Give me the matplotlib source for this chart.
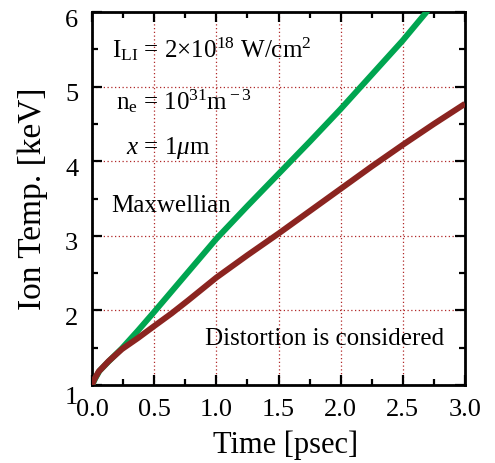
import numpy as np
import matplotlib as mpl
import matplotlib.pyplot as plt
from matplotlib.ticker import MultipleLocator
import matplotlib.transforms as mtransforms

# Ion temperature vs time (psec), keV
t_maxw = [0.0, 0.03, 0.06, 0.13, 0.24, 0.37, 0.5, 0.75, 1.0, 1.25, 1.5,
          1.75, 2.0, 2.25, 2.5, 2.7]
T_maxw = [1.0, 1.10, 1.19, 1.31, 1.49, 1.73, 1.98, 2.47, 2.96, 3.40, 3.83,
          4.26, 4.70, 5.16, 5.62, 6.02]

t_dist = [0.0, 0.02, 0.054, 0.134, 0.24, 0.37, 0.5, 0.64, 0.77, 1.0, 1.25, 1.5,
          1.75, 2.0, 2.25, 2.5, 2.75, 3.0]
T_dist = [1.0, 1.08, 1.18, 1.32, 1.48, 1.63, 1.79, 1.96, 2.13, 2.44, 2.74, 3.03,
          3.33, 3.63, 3.93, 4.22, 4.50, 4.77]

mpl.rcParams.update({'font.family': 'Liberation Serif',
                     'mathtext.fontset': 'custom',
                     'mathtext.rm': 'Liberation Serif',
                     'mathtext.it': 'Liberation Serif:italic',
                     'font.size': 18})

fig = plt.figure(figsize=(4.95, 4.63), dpi=100)
ax = fig.add_axes([0.1859, 0.1685, 0.7535, 0.8055])

ax.plot(t_maxw, T_maxw, color='#00a550', linewidth=4.3, solid_capstyle='butt',
        solid_joinstyle='round', zorder=4)
ax.plot(t_dist, T_dist, color='#8b2420', linewidth=4.3, solid_capstyle='butt',
        solid_joinstyle='round', zorder=5)

ax.set_xlim(0, 3)
ax.set_ylim(1, 6)
ax.xaxis.set_major_locator(MultipleLocator(0.5))
ax.xaxis.set_minor_locator(MultipleLocator(0.25))
ax.yaxis.set_major_locator(MultipleLocator(1))
ax.yaxis.set_minor_locator(MultipleLocator(0.5))
ax.xaxis.set_major_formatter(mpl.ticker.FormatStrFormatter('%.1f'))
ax.tick_params(which='both', direction='in', top=True, right=True, width=1.6,
               labelsize=19)
ax.tick_params(which='major', length=7)
ax.tick_params(which='minor', length=4)
ax.tick_params(axis='x', pad=10)
ax.tick_params(axis='y', pad=10)
for s in ax.spines.values():
    s.set_linewidth(2)

ax.grid(True, which='major', color='#b02828', linestyle=(0, (1, 2)), linewidth=0.9)

# y labels sit a little below their ticks
for lab in ax.get_yticklabels():
    dy = -11 if lab.get_text() == '1' else -6
    lab.set_transform(lab.get_transform() +
                      mtransforms.ScaledTranslation(0, dy / 100, fig.dpi_scale_trans))

ax.set_xlabel('Time [psec]', fontsize=22, labelpad=7)
ax.xaxis.label.set_x(0.52)
ax.set_ylabel('Ion Temp. [keV]', fontsize=24, labelpad=12)

ax.text(0.16, 5.50, r'I$_{\rm LI}$ = 2$\times$10$^{18}$ W/cm$^2$', fontsize=18, va='center')
ax.text(0.19, 4.80, r'n$_{\rm e}$ = 10$^{31}$m$^{\rm -3}$', fontsize=18, va='center')
ax.text(0.27, 4.18, r'$x$ = 1$\mu$m', fontsize=18, va='center')
ax.text(0.156, 3.40, 'Maxwellian', fontsize=18, va='center')
ax.text(0.91, 1.62, 'Distortion is considered', fontsize=18, va='center')

fig.savefig('out.png', dpi=100)
